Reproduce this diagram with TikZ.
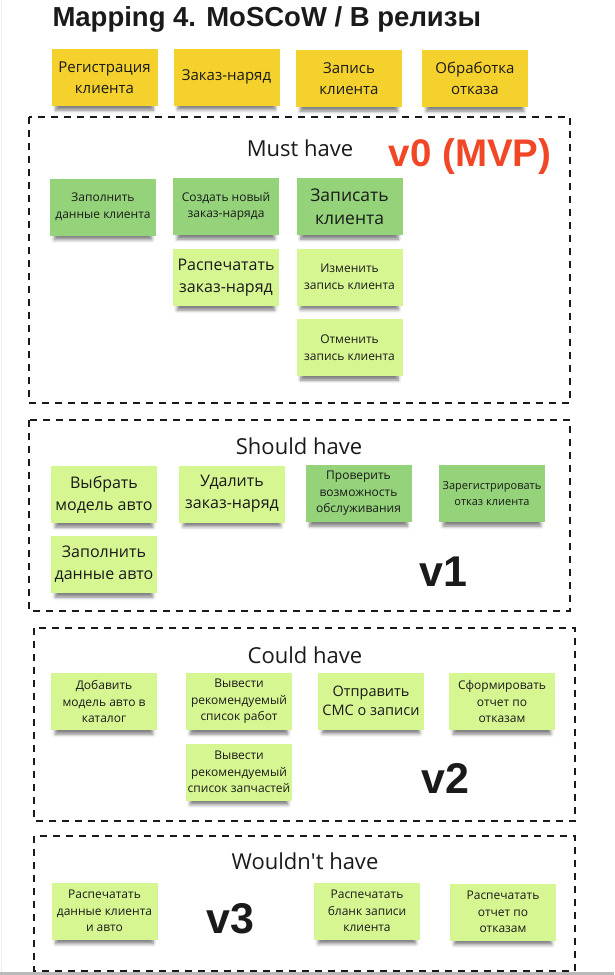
\documentclass[tikz,border=0pt]{standalone}
\usepackage{fontspec}
\setmainfont{Open Sans}
\newfontfamily\headfont{Liberation Sans}
\usetikzlibrary{shadows.blur}
\definecolor{stickyyellow}{HTML}{F5D12D}
\definecolor{stickygreen}{HTML}{94D37A}
\definecolor{stickylight}{HTML}{D6F692}
\definecolor{mvpred}{HTML}{F24726}
\definecolor{ink}{HTML}{1A1A1A}
\tikzset{
  sticky/.style={minimum width=106pt, minimum height=57pt, inner sep=2pt, align=center, text=ink,
    blur shadow={shadow xshift=0pt, shadow yshift=-7pt, shadow scale=0.92, shadow opacity=50, shadow blur radius=3.5pt}},
  feature/.style={sticky, fill=stickyyellow, font=\fontsize{15}{21}\selectfont},
  mustnote/.style={sticky, fill=stickygreen},
  wishnote/.style={sticky, fill=stickylight},
  smalltext/.style={font=\fontsize{12}{16.5}\selectfont},
  tinytext/.style={font=\fontsize{11}{15.5}\selectfont},
  midtext/.style={font=\fontsize{14.5}{19}\selectfont},
  bigtext/.style={font=\fontsize{16}{22}\selectfont},
  zone/.style={draw=ink, line width=1.8pt, dash pattern=on 7pt off 6pt},
  zonetitle/.style={font=\fontsize{22}{26}\selectfont, text=ink},
  release/.style={font=\headfont\bfseries\fontsize{43}{43}\selectfont, text=ink, anchor=base}
}
\begin{document}
\begin{tikzpicture}[x=1pt,y=-1pt]
            \useasboundingbox (0,0) rectangle (614,975);
            \fill[gray!55] (0,972) rectangle (614,975);
            \draw[gray!15, line width=1pt] (1.5,0) -- (1.5,972);
            \node[anchor=base west, text=ink, font=\headfont\bfseries\fontsize{27.5}{27.5}\selectfont] (title) at (49,26) {Mapping 4. MoSCoW / В релизы};
            \foreach \x/\y/\name/\txt in {104.5/77.5/reg/Регистрация\\клиента, 226.5/77/order/Заказ-наряд, 349/78.5/book/Запись\\клиента, 475/78.5/refuse/Обработка\\отказа}
            \node[feature] (\name) at (\x,\y) {\txt};
            \draw[zone] (29,117) rectangle (570,403);
            \draw[zone] (29,420) rectangle (570,611);
            \draw[zone] (34,628) rectangle (575,821);
            \draw[zone] (34,836) rectangle (575,971);
            \node[zonetitle] (must) at (300,148) {Must have};
            \node[zonetitle] (should) at (299,446) {Should have};
            \node[zonetitle] (could) at (305,655) {Could have};
            \node[zonetitle] (wont) at (305,861) {Wouldn\textquotesingle t have};
            \node[release, text=mvpred, font=\headfont\bfseries\fontsize{38.5}{38.5}\selectfont] (v0) at (470,166) {v0 (MVP)};
            \node[release] (v1) at (443.5,586) {v1};
            \node[release] (v2) at (445.5,793) {v2};
            \node[release] (v3) at (230.5,933) {v3};
            \node[mustnote, smalltext] (m1) at (103,207) {Заполнить\\данные клиента};
            \node[mustnote, smalltext] (m2) at (226,206.5) {Создать новый\\заказ-наряда};
            \node[mustnote, font=\fontsize{17.5}{23}\selectfont] (m3) at (349.5,206.5) {Записать\\клиента};
            \node[wishnote, bigtext] (m4) at (226,277.5) {Распечатать\\заказ-наряд};
            \node[wishnote, smalltext] (m5) at (349.5,277) {Изменить\\запись клиента};
            \node[wishnote, smalltext] (m6) at (349.5,347.5) {Отменить\\запись клиента};
            \node[wishnote, bigtext] (s1) at (104,494.5) {Выбрать\\модель авто};
            \node[wishnote, bigtext] (s2) at (232,494) {Удалить\\заказ-наряд};
            \node[mustnote, smalltext] (s3) at (358.5,493.5) {Проверить\\возможность\\обслуживания};
            \node[mustnote, tinytext] (s4) at (492,493.5) {Зарегистрировать\\отказ клиента};
            \node[wishnote, bigtext] (s5) at (104,564.5) {Заполнить\\данные авто};
            \node[wishnote, smalltext] (c1) at (104,701.5) {Добавить\\модель авто в\\каталог};
            \node[wishnote, smalltext] (c2) at (239,701.5) {Вывести\\рекомендуемый\\список работ};
            \node[wishnote, midtext] (c3) at (371,701) {Отправить\\СМС о записи};
            \node[wishnote, smalltext] (c4) at (502,701.5) {Сформировать\\отчет по\\отказам};
            \node[wishnote, smalltext] (c5) at (239,772) {Вывести\\рекомендуемый\\список запчастей};
            \node[wishnote, smalltext] (w1) at (104.5,911) {Распечатать\\данные клиента\\и авто};
            \node[wishnote, smalltext] (w2) at (367,911) {Распечатать\\бланк записи\\клиента};
            \node[wishnote, smalltext] (w3) at (503,912) {Распечатать\\отчет по\\отказам};
        \end{tikzpicture}
\end{document}
